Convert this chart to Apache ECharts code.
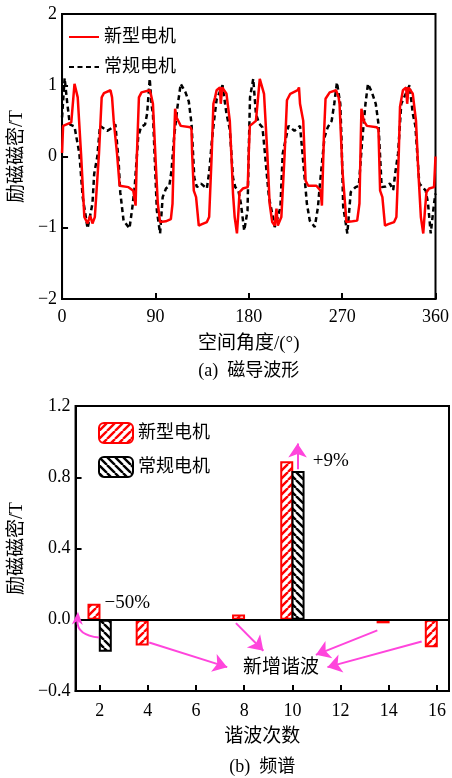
<!DOCTYPE html>
<html>
<head>
<meta charset="utf-8">
<script src="https://cdn.jsdelivr.net/npm/echarts@6/dist/echarts.min.js"></script>
<style>
  html, body { margin: 0; padding: 0; background: #fff; }
  #chart { width: 452px; height: 778px; }
</style>
</head>
<body>
<div id="chart"></div>
<script>
// ---- (a) flux density waveform: [angle in degrees, B in T] ----
const waveNew = [
  [0,0.05],[1,0.43],[8.9,0.48],[12,1.02],[15.1,0.83],[18.3,0.04],[21.5,-0.85],[24.6,-0.94],[27.1,-0.83],
  [29.3,-0.94],[31.6,-0.85],[35.6,0.04],[38.2,0.83],[40.4,0.89],[46.7,0.93],[48.2,0.83],[49.8,0.50],
  [53,0.04],[55.5,-0.41],[64,-0.43],[68.7,-0.48],[70.9,-0.69],[72.2,0.04],[74.1,0.83],[76.6,0.90],
  [84.5,0.93],[85.5,0.88],[87.6,0.74],[90.7,-0.2],[92.3,-0.66],[94.5,-0.92],[100,-0.91],[104.9,-0.88],
  [106.5,-0.66],[108.1,0.27],[109,0.67],[110.3,0.55],[114.4,0.43],[123.8,0.41],[124.8,0.38],[125.4,0.04],
  [127,-0.48],[129.2,-0.57],[131.8,-0.97],[134.9,-0.95],[139.6,-0.92],[141.8,-0.85],[144.3,0.04],
  [145.9,0.74],[147.5,0.83],[149,0.93],[152.2,0.97],[153,0.74],[154.4,0.97],[158.5,0.88],[161.7,0.5],
  [163.9,-0.2],[164.8,-0.52],[166.4,-0.85],[168.6,-1.08],[170.1,-0.76],[171.1,-0.5],[174.3,-0.45],
  [179,-0.43],[180,0.05],[181,0.43],[186.9,0.5],[190.6,1.09],[194.7,0.88],[197.9,0.04],[200.1,-0.66],
  [202.6,-0.92],[205,-0.97],[206.7,-0.73],[208,-0.97],[211.4,-0.85],[214.6,0.04],[216.8,0.79],[220,0.88],
  [227.2,0.93],[228.4,0.97],[229.4,0.74],[232.5,0.5],[234.8,-0.34],[237.3,-0.41],[245.2,-0.41],
  [249.2,-0.48],[250.5,-0.69],[252.4,0.27],[254,0.81],[258,0.9],[264.1,0.93],[266.6,0.83],[267.5,0.74],
  [270.3,-0.2],[272.8,-0.66],[274.1,-0.92],[280,-0.91],[284.5,-0.9],[286.7,-0.66],[288,0.27],[288.6,0.67],
  [290.8,0.5],[293.9,0.43],[303.4,0.41],[305,0.38],[306.6,-0.48],[308.8,-0.57],[311.3,-0.97],[314.5,-0.95],
  [320.1,-0.92],[322.3,-0.85],[324.6,0.04],[325.8,0.7],[328.6,0.93],[331.7,0.97],[332.7,0.74],[334,0.97],
  [338.1,0.88],[341.2,0.5],[343.4,-0.2],[345.9,-0.85],[348.2,-1.08],[349.8,-0.76],[351.3,-0.5],
  [353.9,-0.45],[358.6,-0.43],[360,0.0]
];
const waveConv = [
  [0,0.55],[2.5,1.1],[5,0.75],[7.5,0.45],[12,0.42],[13.5,0.42],[16.7,0.04],[19.9,-0.57],[22.4,-0.8],
  [24.6,-1.01],[26.8,-0.85],[29.3,-0.66],[31,-0.24],[34,0.0],[36.6,0.43],[43.5,0.36],[48,0.40],[51.4,0.45],
  [54.5,-0.06],[56.1,-0.5],[59.3,-0.9],[65,-1.01],[67.8,-0.71],[70,-0.43],[73.4,0.27],[76,0.41],[80,0.45],
  [82,0.6],[84.5,1.09],[86.5,0.7],[87.6,0.6],[91.4,-0.76],[94.5,-1.08],[97,-0.57],[100.2,-0.45],
  [103.4,-0.41],[105.5,-0.2],[108,0.27],[111.2,0.69],[114.4,1.02],[119,0.9],[122.2,0.77],[124.8,0.46],
  [127.5,-0.3],[130,-0.43],[134,-0.38],[139.6,-0.45],[142,-0.2],[144.3,0.2],[146.5,0.5],[149,0.8],
  [154.7,1.0],[158.5,0.6],[161.7,0.38],[164.8,-0.3],[167,-0.43],[170,-0.48],[172.4,-0.66],[175.6,-1.04],
  [178.8,-0.76],[180,0.1],[181.2,0.83],[184.3,1.09],[186.9,0.6],[190,0.46],[193.2,0.41],[195.6,0.04],
  [199.4,-0.57],[202.6,-0.8],[205,-0.99],[208,-0.85],[210.5,-0.71],[212.7,0.04],[218.3,0.43],[224,0.36],
  [229.4,0.43],[234.1,-0.34],[236,-0.66],[238.8,-0.9],[243.6,-0.99],[245,-1.01],[246.7,-0.71],
  [248.3,-0.43],[253,0.27],[256.1,0.41],[259.9,0.5],[262.4,0.74],[265,1.04],[268.2,0.74],[269.5,0.2],
  [271,-0.7],[275,-1.08],[278.3,-0.5],[283,-0.43],[286.1,-0.41],[289.3,0.22],[292.5,0.74],[294.9,1.02],
  [298.7,0.9],[302.4,0.74],[305,0.46],[308.1,-0.43],[312,-0.42],[316,-0.38],[319.2,-0.47],[321.5,-0.2],
  [323.9,0.04],[327,0.74],[335,1.0],[338.1,0.6],[340.6,0.43],[344.4,-0.38],[347.5,-0.43],[350.6,-0.48],
  [352.8,-0.66],[355.4,-1.08],[358.6,-0.66],[360,-0.52]
];

// ---- (b) harmonic spectrum ----
const harmonicsNew = [2, 4, 8, 10, 14, 16];
const ampNew = [0.09, -0.145, 0.03, 0.89, -0.02, -0.155];
const harmonicsConv = [2, 10];
const ampConv = [-0.18, 0.835];
const orderTicks = [2, 4, 6, 8, 10, 12, 14, 16];

const seriesNames = ['新型电机', '常规电机'];

// annotation arrows in spectrum data coordinates: [from, to]
const arrowsToNew = [
  [[4.29, -0.128], [7.53, -0.266]],
  [[7.89, -0.019], [9.03, -0.174]],
  [[13.76, -0.06], [11.21, -0.197]],
  [[15.6, -0.122], [11.69, -0.266]]
];
const arrowRise = [[10.45, 0.845], [10.45, 0.99]];
// curved arrow: start, bend point, tip
const arrowDrop = [[1.98, -0.10], [1.05, -0.085], [1.1, 0.045]];
const noteTexts = [
  { text: '+9%', at: [10.85, 0.893], align: 'left' },
  { text: '\u221250%', at: [2.2, 0.095], align: 'left' },
  { text: '新增谐波', at: [9.53, -0.27], align: 'center' }
];

const RED = '#ff0000';
const BLACK = '#000000';
const MAGENTA = '#ff45dc';
const FONT = "'Liberation Serif', 'Noto Sans CJK SC', serif";

function hatch(color, rising) {
  const s = 8;
  const c = document.createElement('canvas');
  c.width = s; c.height = s;
  const g = c.getContext('2d');
  g.fillStyle = '#fff';
  g.fillRect(0, 0, s, s);
  g.strokeStyle = color;
  g.lineWidth = 2.4;
  g.beginPath();
  for (const k of [-s, 0, s]) {
    if (rising) { g.moveTo(k, s); g.lineTo(k + s, 0); }
    else { g.moveTo(k, 0); g.lineTo(k + s, s); }
  }
  g.stroke();
  return { image: c, repeat: 'repeat' };
}

const minus = v => String(v).replace('-', '\u2212');
const barTag = ' ';

const chart = echarts.init(document.getElementById('chart'), null, { renderer: 'canvas' });

const axisCommon = {
  axisLine: { show: true, onZero: false, lineStyle: { color: BLACK, width: 2 } },
  axisTick: { show: true, inside: true, length: 6, lineStyle: { color: BLACK, width: 2 } },
  splitLine: { show: false },
  axisLabel: { color: BLACK, fontFamily: FONT, fontSize: 18 },
  nameTextStyle: { color: BLACK, fontFamily: FONT, fontSize: 19 }
};

const option = {
  animation: false,
  grid: [
    { left: 57, top: 14, width: 381, height: 285, show: true, borderColor: BLACK, borderWidth: 2, backgroundColor: 'transparent' },
    { left: 70, top: 406, width: 379, height: 285, show: true, borderColor: BLACK, borderWidth: 2, backgroundColor: 'transparent' }
  ],
  legend: [
    {
      data: seriesNames, left: 63, top: 23, orient: 'vertical',
      itemWidth: 30, itemHeight: 14, itemGap: 12,
      itemStyle: { opacity: 0 },
      textStyle: { fontFamily: FONT, fontSize: 18, color: BLACK }
    },
    {
      data: seriesNames.map(n => n + barTag), left: 93, top: 417, orient: 'vertical',
      itemWidth: 34, itemHeight: 20, itemGap: 12,
      formatter: n => n.trim(),
      textStyle: { fontFamily: FONT, fontSize: 18, color: BLACK }
    }
  ],
  xAxis: [
    Object.assign({}, axisCommon, {
      gridIndex: 0, type: 'value', min: 0, max: 360, interval: 90,
      name: '空间角度/(°)', nameLocation: 'middle', nameGap: 36,
      axisLabel: Object.assign({}, axisCommon.axisLabel, { margin: 9 })
    }),
    Object.assign({}, axisCommon, {
      gridIndex: 1, type: 'value', min: 1, max: 16.5,
      name: '谐波次数', nameLocation: 'middle', nameGap: 37,
      axisTick: Object.assign({}, axisCommon.axisTick, { customValues: orderTicks }),
      axisLabel: Object.assign({}, axisCommon.axisLabel, { margin: 11, customValues: orderTicks })
    })
  ],
  yAxis: [
    Object.assign({}, axisCommon, {
      gridIndex: 0, type: 'value', min: -2, max: 2, interval: 1,
      name: '励磁磁密/T', nameLocation: 'middle', nameRotate: 90, nameGap: 26,
      axisLabel: Object.assign({}, axisCommon.axisLabel, { margin: 5, formatter: minus })
    }),
    Object.assign({}, axisCommon, {
      gridIndex: 1, type: 'value', min: -0.4, max: 1.2, interval: 0.4,
      name: '励磁磁密/T', nameLocation: 'middle', nameRotate: 90, nameGap: 39,
      axisLabel: Object.assign({}, axisCommon.axisLabel, { margin: 5, formatter: v => minus(v.toFixed(1)) })
    })
  ],
  series: [
    {
      name: seriesNames[0], type: 'line', xAxisIndex: 0, yAxisIndex: 0,
      data: waveNew, showSymbol: false, symbol: 'circle', symbolSize: 0, z: 3,
      lineStyle: { color: RED, width: 2.5 }, itemStyle: { color: RED }
    },
    {
      name: seriesNames[1], type: 'line', xAxisIndex: 0, yAxisIndex: 0,
      data: waveConv, showSymbol: false, symbol: 'circle', symbolSize: 0, z: 2,
      lineStyle: { color: BLACK, width: 2.5, type: [5, 3.5] }, itemStyle: { color: BLACK }
    },
    {
      name: seriesNames[0] + barTag, type: 'bar', xAxisIndex: 1, yAxisIndex: 1,
      data: harmonicsNew.map((h, i) => [h, ampNew[i]]),
      barWidth: 13, barGap: '-13%',
      itemStyle: { color: hatch(RED, true), borderColor: RED, borderWidth: 2 },
      markLine: {
        silent: true, symbol: ['none', 'arrow'], symbolSize: 14,
        label: { show: false },
        lineStyle: { color: MAGENTA, width: 2, type: 'solid' },
        data: arrowsToNew.concat([arrowRise]).map(a => [{ coord: a[0] }, { coord: a[1] }])
      }
    },
    {
      name: seriesNames[1] + barTag, type: 'bar', xAxisIndex: 1, yAxisIndex: 1,
      data: harmonicsConv.map((h, i) => [h, ampConv[i]]),
      barWidth: 13, barGap: '-13%',
      itemStyle: { color: hatch(BLACK, false), borderColor: BLACK, borderWidth: 2 }
    },
    {
      // zero reference line of the spectrum
      type: 'line', xAxisIndex: 1, yAxisIndex: 1, data: [],
      markLine: {
        silent: true, symbol: 'none', label: { show: false },
        lineStyle: { color: BLACK, width: 2, type: 'solid' },
        data: [{ yAxis: 0 }]
      }
    }
  ]
};

chart.setOption(option);

// captions, notes and the curved arrow placed through the axis scales
const toPx = p => chart.convertToPixel({ xAxisIndex: 1, yAxisIndex: 1 }, p);
const graphics = noteTexts.map(n => {
  const p = toPx(n.at);
  return {
    type: 'text', x: p[0], y: p[1], z: 20,
    style: { text: n.text, fill: BLACK, font: '19px ' + FONT, textAlign: n.align, textVerticalAlign: 'middle' }
  };
});

const [s0, c0, t0] = arrowDrop.map(toPx);
const dx = t0[0] - c0[0], dy = t0[1] - c0[1];
const len = Math.hypot(dx, dy) || 1;
const ux = dx / len, uy = dy / len, nx = -uy, ny = ux;
const headL = 13, headW = 11;
const base = [t0[0] - ux * headL, t0[1] - uy * headL];
const notch = [t0[0] - ux * headL * 0.72, t0[1] - uy * headL * 0.72];
graphics.push({
  type: 'bezierCurve', z: 20, silent: true,
  shape: { x1: s0[0], y1: s0[1], x2: notch[0], y2: notch[1], cpx1: c0[0], cpy1: c0[1] },
  style: { stroke: MAGENTA, lineWidth: 2, fill: null }
});
graphics.push({
  type: 'polygon', z: 21, silent: true,
  shape: { points: [t0, [base[0] + nx * headW / 2, base[1] + ny * headW / 2], notch, [base[0] - nx * headW / 2, base[1] - ny * headW / 2]] },
  style: { fill: MAGENTA }
});

const capA = chart.convertToPixel({ xAxisIndex: 0, yAxisIndex: 0 }, [180, -2]);
const capB = toPx([8.75, -0.4]);
graphics.push({
  type: 'text', x: capA[0], y: 371, z: 20,
  style: { text: '(a)  磁导波形', fill: BLACK, font: '18px ' + FONT, textAlign: 'center', textVerticalAlign: 'middle' }
});
graphics.push({
  type: 'text', x: capB[0], y: 767, z: 20,
  style: { text: '(b)  频谱', fill: BLACK, font: '18px ' + FONT, textAlign: 'center', textVerticalAlign: 'middle' }
});
chart.setOption({ graphic: graphics });
</script>
</body>
</html>
